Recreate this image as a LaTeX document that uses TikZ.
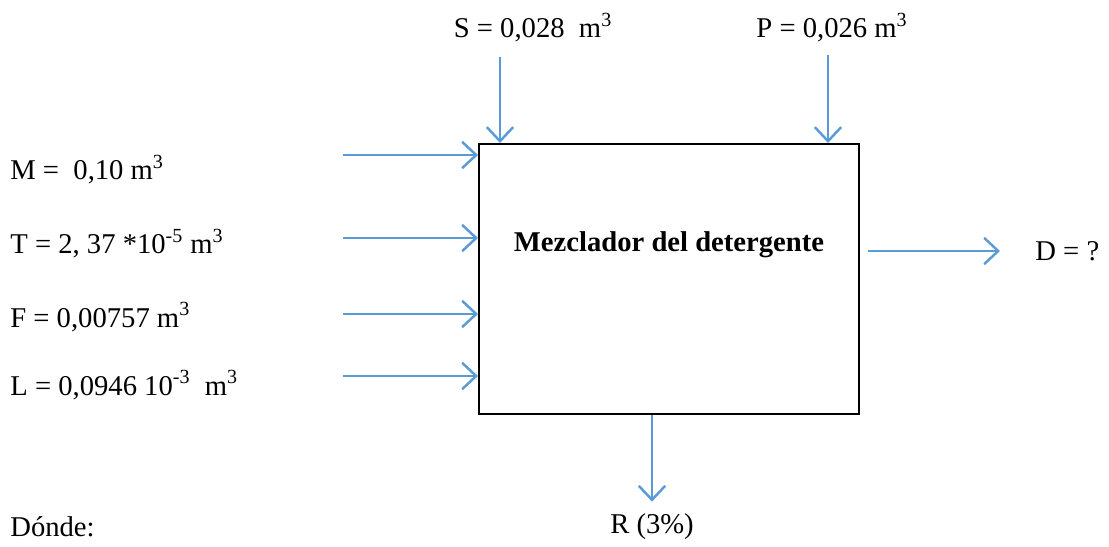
\documentclass[tikz,border=0pt]{standalone}
\usepackage{fontspec}
\setmainfont{Liberation Serif}
\usetikzlibrary{arrows.meta,positioning}
\definecolor{flowblue}{HTML}{5B9BD5}
\tikzset{
    flow/.style={draw=flowblue, line width=1.4pt, -{Straight Barb[length=8pt,width=15pt,line width=1.4pt]}},
    lbl/.style={inner sep=0pt, font=\fontsize{16.3}{19}\selectfont}
}
\begin{document}
\begin{tikzpicture}[x=0.02cm, y=-0.02cm]
        \useasboundingbox (0,0) rectangle (1109,547);

        % Mixer box
        \node[draw, line width=1pt, minimum width=380*0.02cm, minimum height=270*0.02cm, anchor=north west, inner sep=0pt] (mix) at (478,143) {};
        \node[lbl, font=\fontsize{16.3}{19}\selectfont\bfseries] (mixtxt) at (669,245) {Mezclador del detergente};

        % Inputs on the left
        \node[lbl, anchor=base west] (M) at (10,180) {M =\ \ 0,10 m\textsuperscript{3}};
        \node[lbl, anchor=base west] (T) at (10,254) {T = 2, 37 *10\textsuperscript{-5} m\textsuperscript{3}};
        \node[lbl, anchor=base west] (F) at (10,327) {F = 0,00757 m\textsuperscript{3}};
        \node[lbl, anchor=base west] (L) at (10,395) {L = 0,0946 10\textsuperscript{-3}\ \ m\textsuperscript{3}};

        \coordinate (inM) at (343,155);
        \coordinate (inT) at (343,238);
        \coordinate (inF) at (343,314);
        \coordinate (inL) at (343,376);
        \draw[flow] (inM) -- (inM -| mix.west);
        \draw[flow] (inT) -- (inT -| mix.west);
        \draw[flow] (inF) -- (inF -| mix.west);
        \draw[flow] (inL) -- (inL -| mix.west);

        % Inputs on top
        \node[lbl] (S) at (533,28) {S = 0,028\ \ m\textsuperscript{3}};
        \node[lbl] (P) at (832,28) {P = 0,026 m\textsuperscript{3}};
        \coordinate (inS) at (500,57);
        \coordinate (inP) at (828,55);
        \draw[flow] (inS) -- (inS |- mix.north);
        \draw[flow] (inP) -- (inP |- mix.north);

        % Outputs
        \node[lbl, anchor=west] (D) at (1035,251) {D = ?};
        \coordinate (outD) at (868,251);
        \draw[flow] (outD) -- ([xshift=-35*0.02cm]D.west);

        \node[lbl] (R) at (652,527) {R (3\%)};
        \draw[flow] (mix.south -| R) -- ([yshift=12*0.02cm]R.north);

        \node[lbl, anchor=west] (donde) at (10,527) {Dónde:};
\end{tikzpicture}
\end{document}
